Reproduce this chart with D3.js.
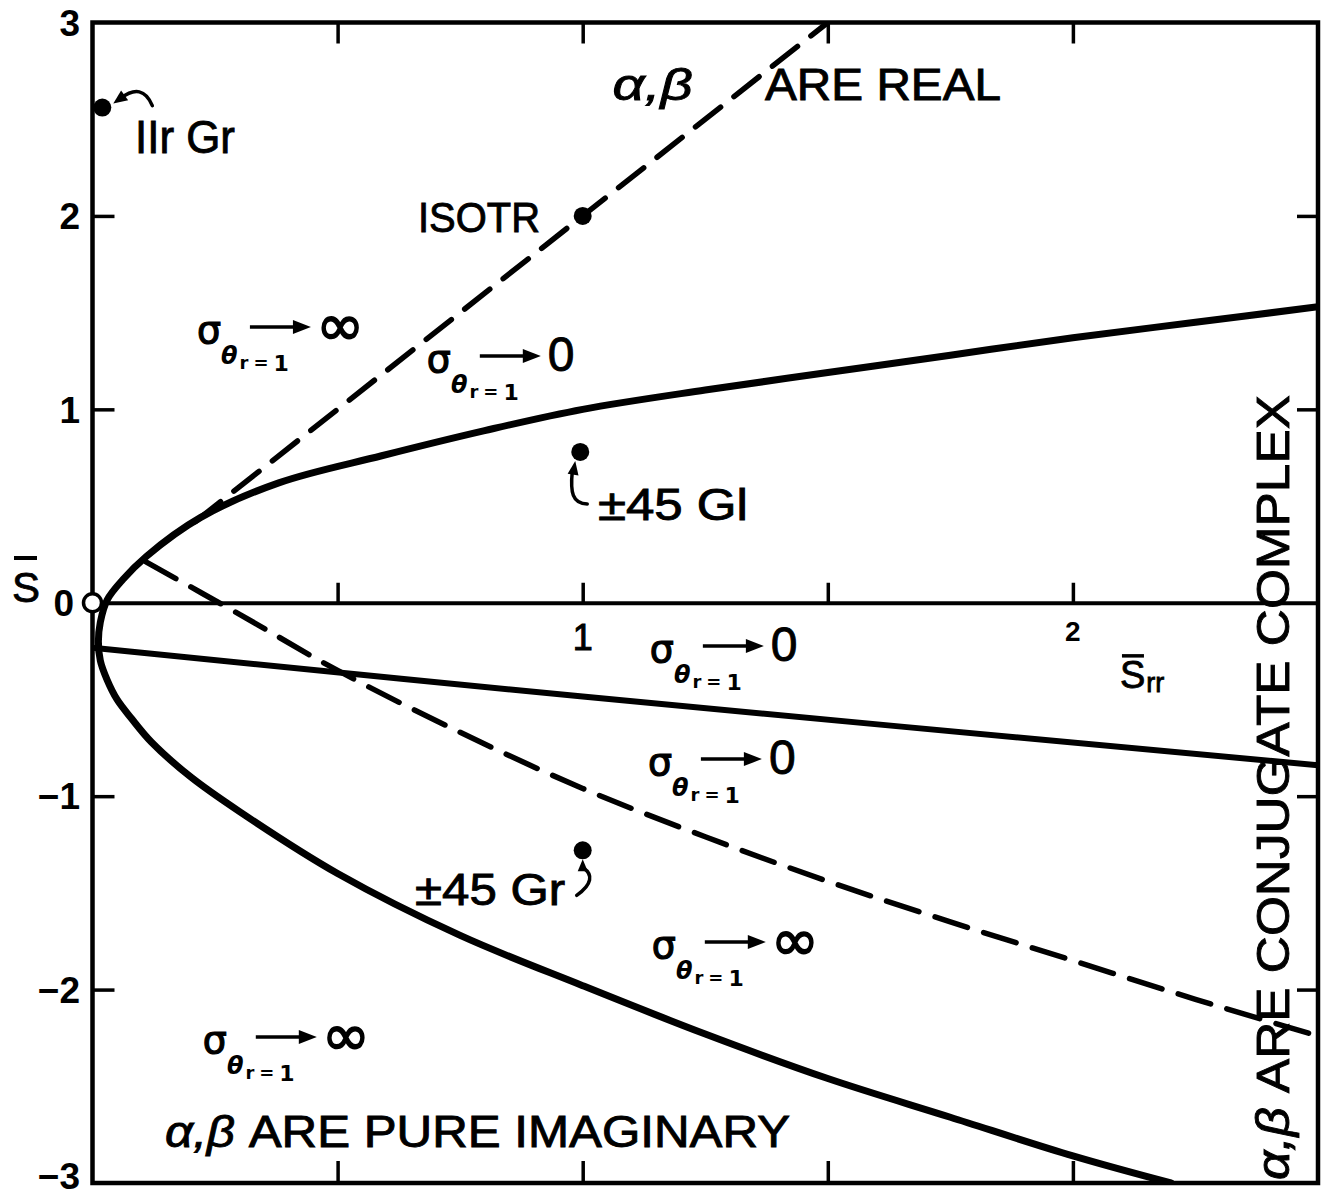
<!DOCTYPE html>
<html><head><meta charset="utf-8">
<script src="https://cdn.jsdelivr.net/npm/d3@7"></script>
<style>html,body{margin:0;padding:0;background:#fff;} svg{display:block;}</style>
</head><body>
<svg id="chart" width="1324" height="1198"></svg>
<script>
// ---------- data ----------
const xDomain = [0, 2.5];
const yDomain = [-3, 3];
const xTickValues = [0.5, 1, 1.5, 2];
const xLabelValues = [1, 2];
const xLabelTexts = ["1", "2"];
const yTickValues = [-2, -1, 1, 2];
const yLabelValues = [3, 2, 1, 0, -1, -2, -3];
const yLabelTexts = ["3", "2", "1", "0", "−1", "−2", "−3"];

// boundary between real / imaginary / complex regions (one continuous curve)
const boundaryCurve = [
  [2.5, 1.53], [2.25, 1.45], [2.0, 1.37], [1.75, 1.28], [1.5, 1.19], [1.25, 1.10],
  [1.0, 1.0], [0.8, 0.89], [0.59, 0.76], [0.38, 0.62], [0.22, 0.44], [0.11, 0.24],
  [0.062, 0.12], [0.03, 0.015], [0.016, -0.1], [0.012, -0.2], [0.016, -0.3],
  [0.03, -0.4], [0.05, -0.5], [0.08, -0.6], [0.12, -0.72], [0.2, -0.9],
  [0.3, -1.08], [0.5, -1.40], [0.75, -1.72], [1.0, -1.98], [1.25, -2.23],
  [1.5, -2.46], [1.75, -2.66], [2.0, -2.86], [2.2, -3.0]
];
const straightLine = [[0.005, -0.234], [1.0, -0.485], [2.5, -0.84]];
const upperDashed = [[0.21, 0.42], [1.0, 2.0], [1.5, 3.0]];
const lowerDashed = [
  [0.11, 0.21], [0.3, -0.06], [0.5, -0.35], [0.75, -0.67], [1.0, -0.96],
  [1.25, -1.21], [1.5, -1.44], [1.75, -1.65], [2.0, -1.85], [2.25, -2.05], [2.5, -2.24]
];

const materialNames = ["IIr Gr", "ISOTR", "±45 Gl", "±45 Gr"];
const materialSrr = [0.02, 1.0, 0.995, 1.0];
const materialS = [2.56, 2.0, 0.78, -1.28];

const sigmaTargets = ["∞", "0", "0", "0", "∞", "∞"];
const sigmaSrr = [0.213, 0.682, 1.137, 1.133, 1.141, 0.225];
const sigmaS = [1.343, 1.193, -0.306, -0.891, -1.837, -2.328];

// ---------- setup ----------
const svg = d3.select("#chart");
const x = d3.scaleLinear().domain(xDomain).range([92.5, 1318]);
const y = d3.scaleLinear().domain(yDomain).range([1183, 22.5]);
const FONT = "'Liberation Sans', Arial, sans-serif";
svg.attr("font-family", FONT);

// frame
svg.append("rect")
  .attr("x", x(0)).attr("y", y(3))
  .attr("width", x(2.5) - x(0)).attr("height", y(-3) - y(3))
  .attr("fill", "none").attr("stroke", "#000").attr("stroke-width", 4.5);

function styleAxis(g) {
  g.selectAll(".domain").remove();
  g.selectAll(".tick line").attr("stroke", "#000").attr("stroke-width", 3.5);
  g.selectAll(".tick text").remove();
}
svg.append("g").attr("transform", `translate(${x(0)},0)`)
  .call(d3.axisRight(y).tickValues(yTickValues).tickSize(22)).call(styleAxis);
svg.append("g").attr("transform", `translate(${x(2.5)},0)`)
  .call(d3.axisLeft(y).tickValues(yTickValues).tickSize(21)).call(styleAxis);
svg.append("g").attr("transform", `translate(0,${y(3)})`)
  .call(d3.axisBottom(x).tickValues(xTickValues).tickSize(21)).call(styleAxis);
svg.append("g").attr("transform", `translate(0,${y(-3)})`)
  .call(d3.axisTop(x).tickValues(xTickValues).tickSize(22)).call(styleAxis);
// zero line with ticks
const zeroAxis = svg.append("g").attr("transform", `translate(0,${y(0)})`)
  .call(d3.axisTop(x).tickValues(xTickValues).tickSize(20).tickSizeOuter(0));
zeroAxis.select(".domain").attr("stroke", "#000").attr("stroke-width", 4);
zeroAxis.selectAll(".tick line").attr("stroke", "#000").attr("stroke-width", 3.5);
zeroAxis.selectAll(".tick text").remove();

// y tick labels
svg.append("g").selectAll("text").data(yLabelValues).join("text")
  .attr("x", d => d === 0 ? 74 : 80)
  .attr("y", d => d === -3 ? y(d) - 7 : y(d))
  .attr("dy", "0.36em")
  .attr("text-anchor", "end")
  .attr("font-size", 37).attr("font-weight", "bold")
  .text((d, i) => yLabelTexts[i]);

// x tick labels
svg.append("g").selectAll("text").data(xLabelValues).join("text")
  .attr("x", d => x(d))
  .attr("y", (d, i) => i === 0 ? y(0) + 47 : y(0) + 38)
  .attr("text-anchor", "middle")
  .attr("font-size", (d, i) => i === 0 ? 36 : 28)
  .attr("font-weight", (d, i) => i === 0 ? "normal" : "bold")
  .attr("stroke", "#000").attr("stroke-width", (d, i) => i === 0 ? 1 : 0)
  .text((d, i) => xLabelTexts[i]);

// axis titles: S-bar (y) and S-bar rr (x)
svg.append("text").attr("x", 12).attr("y", 602).attr("font-size", 42)
  .attr("stroke", "#000").attr("stroke-width", 0.8).text("S");
svg.append("line").attr("x1", 14).attr("x2", 37).attr("y1", 558).attr("y2", 558)
  .attr("stroke", "#000").attr("stroke-width", 4);
svg.append("text").attr("x", x(2.096)).attr("y", y(-0.44)).attr("font-size", 38)
  .attr("stroke", "#000").attr("stroke-width", 0.8)
  .text("S").append("tspan").attr("font-size", 27).attr("dy", 4).attr("dx", 1).text("rr");
svg.append("line").attr("x1", x(2.096) + 2).attr("x2", x(2.096) + 24)
  .attr("y1", y(-0.44) - 32).attr("y2", y(-0.44) - 32)
  .attr("stroke", "#000").attr("stroke-width", 3.5);

// ---------- curves ----------
const line = d3.line().x(d => x(d[0])).y(d => y(d[1]));
const smooth = d3.line().x(d => x(d[0])).y(d => y(d[1])).curve(d3.curveCatmullRom.alpha(0.5));

svg.append("clipPath").attr("id", "plotclip").append("rect")
  .attr("x", x(0)).attr("y", y(3)).attr("width", x(2.5) - x(0)).attr("height", y(-3) - y(3));
const plot = svg.append("g").attr("clip-path", "url(#plotclip)");

plot.append("path").datum(boundaryCurve).attr("d", smooth)
  .attr("fill", "none").attr("stroke", "#000").attr("stroke-width", 7).attr("stroke-linecap", "round");
plot.append("path").datum(straightLine).attr("d", smooth)
  .attr("fill", "none").attr("stroke", "#000").attr("stroke-width", 6).attr("stroke-linecap", "round");
plot.append("path").datum(upperDashed).attr("d", line)
  .attr("fill", "none").attr("stroke", "#000").attr("stroke-width", 5.5)
  .attr("stroke-dasharray", "32,17").attr("stroke-linecap", "round");
plot.append("path").datum(lowerDashed).attr("d", smooth)
  .attr("fill", "none").attr("stroke", "#000").attr("stroke-width", 5.5)
  .attr("stroke-dasharray", "34,17").attr("stroke-linecap", "round");

// ---------- material points ----------
svg.append("g").selectAll("circle").data(materialNames).join("circle")
  .attr("cx", (d, i) => x(materialSrr[i]))
  .attr("cy", (d, i) => y(materialS[i]))
  .attr("r", 9).attr("fill", "#000");
// origin open circle
svg.append("circle").attr("cx", x(0)).attr("cy", y(0)).attr("r", 9)
  .attr("fill", "#fff").attr("stroke", "#000").attr("stroke-width", 3.5);

function arrowHead(tx, ty, ang, len, wid) {
  const c = Math.cos(ang), s = Math.sin(ang);
  const bx = tx - c * len, by = ty - s * len;
  return `M${tx},${ty} L${bx - s * wid},${by + c * wid} L${bx + s * wid},${by - c * wid} Z`;
}
// leaders
const lead = svg.append("g").attr("fill", "none").attr("stroke", "#000").attr("stroke-width", 3.5).attr("stroke-linecap", "round");
{
  const cx = x(materialSrr[0]), cy = y(materialS[0]);
  lead.append("path").attr("d", `M${cx + 50},${cy - 2} Q${cx + 40},${cy - 26} ${cx + 18},${cy - 9}`);
  svg.append("path").attr("d", arrowHead(cx + 11, cy - 4, Math.PI * 0.8, 14, 6));
}
{
  const cx = x(materialSrr[2]), cy = y(materialS[2]);
  lead.append("path").attr("d", `M${cx + 7},${cy + 52} C${cx - 8},${cy + 52} ${cx - 10},${cy + 40} ${cx - 8},${cy + 20}`);
  svg.append("path").attr("d", arrowHead(cx - 5, cy + 9, -Math.PI * 0.45, 14, 5.5));
}
{
  const cx = x(materialSrr[3]), cy = y(materialS[3]);
  lead.append("path").attr("d", `M${cx + 1},${cy + 18} C${cx + 10},${cy + 24} ${cx + 10},${cy + 34} ${cx - 6},${cy + 45}`);
  svg.append("path").attr("d", arrowHead(cx, cy + 9, -Math.PI * 0.5, 12, 5));
}

// material labels
const lab = svg.append("g").attr("font-size", 44).attr("stroke", "#000").attr("stroke-width", 0.9);
lab.append("text").attr("x", x(0.0867)).attr("y", y(2.326)).attr("font-size", 46)
  .attr("textLength", 100).attr("lengthAdjust", "spacingAndGlyphs").text(materialNames[0]);
lab.append("text").attr("x", x(0.664)).attr("y", y(1.917)).attr("font-size", 42)
  .attr("textLength", 122).attr("lengthAdjust", "spacingAndGlyphs").text(materialNames[1]);
lab.append("text").attr("x", x(1.031)).attr("y", y(0.428))
  .attr("textLength", 150).attr("lengthAdjust", "spacingAndGlyphs").text(materialNames[2]);
lab.append("text").attr("x", x(0.658)).attr("y", y(-1.563))
  .attr("textLength", 150).attr("lengthAdjust", "spacingAndGlyphs").text(materialNames[3]);

// region labels
const reg = svg.append("g").attr("font-size", 44).attr("stroke", "#000").attr("stroke-width", 0.9);
reg.append("text").attr("x", x(1.061)).attr("y", y(2.599)).attr("font-style", "italic")
  .attr("textLength", 80).attr("lengthAdjust", "spacingAndGlyphs").text("α,β");
reg.append("text").attr("x", x(1.372)).attr("y", y(2.599))
  .attr("textLength", 236).attr("lengthAdjust", "spacingAndGlyphs").text("ARE REAL");
const pure = reg.append("text").attr("x", x(0.148)).attr("y", y(-2.814))
  .attr("textLength", 625).attr("lengthAdjust", "spacingAndGlyphs");
pure.append("tspan").attr("font-style", "italic").text("α,β");
pure.append("tspan").text(" ARE PURE IMAGINARY");
const conj = reg.append("text")
  .attr("transform", `translate(${x(2.44)},${y(-2.985)}) rotate(-90)`)
  .attr("font-size", 47)
  .attr("textLength", 785).attr("lengthAdjust", "spacingAndGlyphs");
conj.append("tspan").attr("font-style", "italic").text("α,β");
conj.append("tspan").text(" ARE CONJUGATE COMPLEX");

// sigma labels
function sigmaLabel(px, py, target) {
  const G = svg.append("g").attr("transform", `translate(${px},${py})`);
  const t = G.append("text").attr("x", 0).attr("y", 0)
    .attr("font-family", "'DejaVu Sans', sans-serif").attr("stroke", "#000").attr("stroke-width", 1.2);
  t.append("tspan").attr("font-size", 38).text("σ");
  t.append("tspan").attr("dx", 0).attr("dy", 21).attr("font-size", 24)
    .attr("font-weight", "bold").attr("font-style", "italic").attr("stroke-width", 0).text("θ");
  t.append("tspan").attr("dx", 2).attr("dy", 5).attr("font-size", 18)
    .attr("font-weight", "bold").attr("stroke-width", 0).text("r");
  t.append("tspan").attr("dx", 5).attr("font-size", 18)
    .attr("font-weight", "bold").attr("stroke-width", 0).text("=");
  t.append("tspan").attr("dx", 5).attr("dy", 2).attr("font-size", 22)
    .attr("font-weight", "bold").attr("stroke-width", 0).text("1");
  G.append("line").attr("x1", 53).attr("x2", 100).attr("y1", -16).attr("y2", -16)
    .attr("stroke", "#000").attr("stroke-width", 3.5);
  G.append("path").attr("d", "M96,-23 L114,-16 L96,-9 Z");
  if (target === "∞") {
    G.append("text").attr("x", 119).attr("y", 2).attr("font-size", 58)
      .attr("font-family", "'DejaVu Sans', sans-serif")
      .attr("stroke", "#000").attr("stroke-width", 1.6).text("∞");
  } else {
    G.append("text").attr("x", 121).attr("y", -1).attr("font-size", 48)
      .attr("stroke", "#000").attr("stroke-width", 0.9).text("0");
  }
}
sigmaTargets.forEach((t, i) => sigmaLabel(x(sigmaSrr[i]), y(sigmaS[i]), t));
</script>
</body></html>
